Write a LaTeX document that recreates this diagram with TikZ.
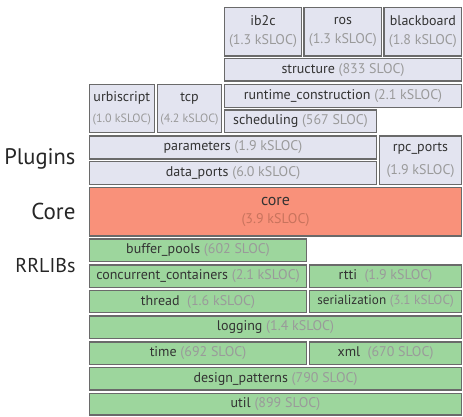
\documentclass[tikz,border=0pt]{standalone}
\usepackage{fontspec}
\setmainfont{PT Sans}
\definecolor{plug}{HTML}{E3E4F0}
\definecolor{corec}{HTML}{F9917A}
\definecolor{rrl}{HTML}{9DD69D}
\definecolor{edge}{HTML}{6A6A6A}
\definecolor{sub}{HTML}{9A9A9A}
\definecolor{subc}{HTML}{C8735D}
\definecolor{ttl}{HTML}{333333}
\newcommand{\sz}[1]{\textcolor{sub}{#1}}
\newcommand{\szc}[1]{\textcolor{subc}{#1}}
\begin{document}
\begin{tikzpicture}[x=1pt,y=-1pt,
  blk/.style={draw=edge, line width=1.2pt, anchor=north west, inner sep=0pt, outer sep=0pt,
     align=center, text=ttl, font=\fontsize{14}{17}\selectfont},
  pl/.style={blk, fill=plug},
  co/.style={blk, fill=corec},
  rr/.style={blk, fill=rrl},
  lbl/.style={anchor=east, text=black!85}]
\useasboundingbox (0,0) rectangle (463,416);
% plugins
\node[pl, minimum width=77.4pt, minimum height=48.7pt] (ib2c) at (224.3,7.3) {ib2c\\[2pt]\sz{(1.3 kSLOC)}};
\node[pl, minimum width=77.7pt, minimum height=48.7pt] (ros) at (304,7.3) {ros\\[2pt]\sz{(1.3 kSLOC)}};
\node[pl, minimum width=77.7pt, minimum height=48.7pt] (bb) at (384,7.3) {blackboard\\[2pt]\sz{(1.8 kSLOC)}};
\node[pl, minimum width=237.4pt, minimum height=22.3pt] (struct) at (224.3,58.7) {structure \sz{(833 SLOC)}};
\node[pl, minimum width=237.4pt, minimum height=23pt] (rc) at (224.3,84.3) {runtime\_construction \sz{(2.1 kSLOC)}};
\node[pl, minimum width=152.4pt, minimum height=22.7pt] (sched) at (224.3,110) {scheduling \sz{(567 SLOC)}};
\node[pl, minimum width=65pt, minimum height=48.4pt] (urbi) at (89.3,84.3) {urbiscript\\[4pt]\sz{\fontsize{12}{14}\selectfont(1.0 kSLOC)}};
\node[pl, minimum width=64.4pt, minimum height=48.4pt] (tcp) at (157.3,84.3) {tcp\\[4pt]\sz{\fontsize{12}{14}\selectfont(4.2 kSLOC)}};
\node[pl, minimum width=287.4pt, minimum height=23pt] (param) at (89.3,136) {parameters \sz{(1.9 kSLOC)}};
\node[pl, minimum width=287.4pt, minimum height=22.6pt] (dp) at (89.3,161.7) {data\_ports \sz{(6.0 kSLOC)}};
\node[pl, minimum width=82.4pt, minimum height=48.3pt] (rpc) at (379.3,136) {rpc\_ports\\[6pt]\sz{(1.9 kSLOC)}};
% core
\node[co, minimum width=372.4pt, minimum height=48.7pt] (core) at (89.3,187.3) {{\fontsize{16}{18}\selectfont core}\\[1pt]\szc{(3.9 kSLOC)}};
% rrlibs
\node[rr, minimum width=217.4pt, minimum height=22.7pt] (bp) at (89.3,239) {buffer\_pools \sz{(602 SLOC)}};
\node[rr, minimum width=217.4pt, minimum height=22.3pt] (cc) at (89.3,265) {concurrent\_containers \sz{(2.1 kSLOC)}};
\node[rr, minimum width=152.4pt, minimum height=22.3pt] (rtti) at (309.3,265) {rtti \ \sz{(1.9 kSLOC)}};
\node[rr, minimum width=217.4pt, minimum height=22pt] (thread) at (89.3,290.7) {thread \ \sz{(1.6 kSLOC)}};
\node[rr, minimum width=152.4pt, minimum height=22pt, font=\fontsize{13.2}{15}\selectfont] (ser) at (309.3,290.7) {serialization \sz{(3.1 kSLOC)}};
\node[rr, minimum width=372.4pt, minimum height=22.3pt] (log) at (89.3,316) {logging \sz{(1.4 kSLOC)}};
\node[rr, minimum width=217.4pt, minimum height=22.3pt] (time) at (89.3,342) {time \sz{(692 SLOC)}};
\node[rr, minimum width=152.4pt, minimum height=22.3pt] (xml) at (309.3,342) {xml \ \sz{(670 SLOC)}};
\node[rr, minimum width=372.4pt, minimum height=22.3pt] (dpat) at (89.3,367.7) {design\_patterns \sz{(790 SLOC)}};
\node[rr, minimum width=372.4pt, minimum height=21.7pt] (util) at (89.3,393.3) {util \sz{(899 SLOC)}};
% labels
\node[lbl, font=\fontsize{22.5}{26}\selectfont] (lplug) at (79,159) {Plugins};
\node[lbl, font=\fontsize{23}{26}\selectfont] (lcore) at (79,211) {Core};
\node[lbl, font=\fontsize{20}{24}\selectfont] (lrr) at (79,266) {RRLIBs};
\end{tikzpicture}
\end{document}
